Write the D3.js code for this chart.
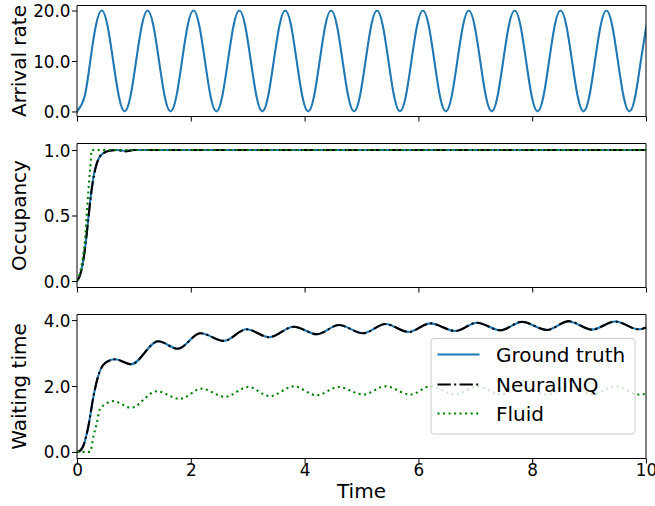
<!DOCTYPE html>
<html><head><meta charset="utf-8">
<script src="https://cdn.jsdelivr.net/npm/d3@7"></script>
<style>
body{margin:0;background:#fff}
svg{display:block}
text{font-family:"DejaVu Sans",sans-serif;fill:#000}
</style>
</head><body>
<svg id="c" width="655" height="506"></svg>
<script>
// ---------------- data ----------------
const xTicks = [0, 2, 4, 6, 8, 10];
const arrivalTicks = [0, 10, 20];
const occupancyTicks = [0, 0.5, 1];
const waitingTicks = [0, 2, 4];
const seriesNames = ["Ground truth", "NeuralINQ", "Fluid"];

// Arrival rate (read at ~1/8 period steps)
const arrivalT = [0, 0.132, 0.233, 0.333, 0.434, 0.535, 0.636, 0.737, 0.837, 0.938, 1.039, 1.140, 1.241, 1.341, 1.442, 1.543, 1.644, 1.745, 1.845, 1.946, 2.047, 2.148, 2.249, 2.349, 2.450, 2.551, 2.652, 2.753, 2.853, 2.954, 3.055, 3.156, 3.257, 3.357, 3.458, 3.559, 3.660, 3.761, 3.861, 3.962, 4.063, 4.164, 4.265, 4.365, 4.466, 4.567, 4.668, 4.769, 4.869, 4.970, 5.071, 5.172, 5.273, 5.373, 5.474, 5.575, 5.676, 5.777, 5.877, 5.978, 6.079, 6.180, 6.281, 6.381, 6.482, 6.583, 6.684, 6.785, 6.885, 6.986, 7.087, 7.188, 7.289, 7.389, 7.490, 7.591, 7.692, 7.793, 7.893, 7.994, 8.095, 8.196, 8.297, 8.397, 8.498, 8.599, 8.700, 8.801, 8.901, 9.002, 9.103, 9.204, 9.305, 9.405, 9.506, 9.607, 9.708, 9.809, 9.909, 10.010];
const arrivalV = [
 0, 2.9, 10, 17.1, 20, 17.1, 10, 2.9,
 0, 2.9, 10, 17.1, 20, 17.1, 10, 2.9,
 0, 2.9, 10, 17.1, 20, 17.1, 10, 2.9,
 0, 2.9, 10, 17.1, 20, 17.1, 10, 2.9,
 0, 2.9, 10, 17.1, 20, 17.1, 10, 2.9,
 0, 2.9, 10, 17.1, 20, 17.1, 10, 2.9,
 0, 2.9, 10, 17.1, 20, 17.1, 10, 2.9,
 0, 2.9, 10, 17.1, 20, 17.1, 10, 2.9,
 0, 2.9, 10, 17.1, 20, 17.1, 10, 2.9,
 0, 2.9, 10, 17.1, 20, 17.1, 10, 2.9,
 0, 2.9, 10, 17.1, 20, 17.1, 10, 2.9,
 0, 2.9, 10, 17.1, 20, 17.1, 10, 2.9,
 0, 2.9, 10, 17.1];

// Occupancy
const occTruthT = [0, 0.05, 0.1, 0.15, 0.2, 0.25, 0.3, 0.35, 0.4, 0.5, 0.6, 0.7, 0.85, 1.0, 10];
const occTruthV = [0, 0.04, 0.13, 0.28, 0.48, 0.68, 0.82, 0.90, 0.95, 0.985, 0.997, 1.0, 0.993, 1.0, 1.0];
const occNeuralT = [0, 0.05, 0.1, 0.15, 0.2, 0.25, 0.3, 0.35, 0.4, 0.5, 0.6, 0.7, 0.85, 1.0, 10];
const occNeuralV = [0, 0.04, 0.13, 0.28, 0.48, 0.67, 0.81, 0.90, 0.95, 0.985, 0.997, 1.0, 0.99, 1.0, 1.0];
const occFluidT = [0, 0.05, 0.1, 0.14, 0.18, 0.23, 0.26, 10];
const occFluidV = [0, 0.06, 0.17, 0.31, 0.57, 0.85, 1.0, 1.0];

// Waiting time
const waitTruthT = [0, 0.05, 0.11, 0.2, 0.29, 0.37, 0.49, 0.67, 0.95, 1.43, 1.77, 2.17, 2.58, 2.98, 3.38, 3.81, 4.22, 4.6, 5.03, 5.42, 5.83, 6.21, 6.65, 7.03, 7.44, 7.82, 8.26, 8.64, 9.05, 9.46, 9.87, 10];
const waitTruthV = [0, 0.03, 0.18, 0.78, 1.69, 2.29, 2.69, 2.81, 2.66, 3.36, 3.13, 3.60, 3.37, 3.72, 3.48, 3.80, 3.57, 3.85, 3.60, 3.88, 3.64, 3.90, 3.67, 3.92, 3.69, 3.94, 3.70, 3.96, 3.71, 3.96, 3.72, 3.78];
const waitNeuralT = [0, 0.05, 0.11, 0.2, 0.29, 0.37, 0.49, 0.67, 0.95, 1.43, 1.77, 2.17, 2.58, 2.98, 3.38, 3.81, 4.22, 4.6, 5.03, 5.42, 5.83, 6.21, 6.65, 7.03, 7.44, 7.82, 8.26, 8.64, 9.05, 9.46, 9.87, 10];
const waitNeuralV = [0, 0.03, 0.18, 0.78, 1.69, 2.29, 2.69, 2.81, 2.66, 3.36, 3.13, 3.60, 3.37, 3.72, 3.48, 3.80, 3.57, 3.85, 3.60, 3.88, 3.64, 3.90, 3.67, 3.92, 3.69, 3.95, 3.70, 3.97, 3.71, 3.96, 3.72, 3.78];
const waitFluidT = [0, 0.23, 0.29, 0.35, 0.40, 0.49, 0.64, 0.95, 1.40, 1.81, 2.19, 2.60, 3.01, 3.39, 3.81, 4.21, 4.6, 5.03, 5.42, 5.86, 6.21, 6.65, 7.03, 7.44, 7.82, 8.26, 8.64, 9.05, 9.46, 9.87, 10];
const waitFluidV = [0, 0, 0.48, 0.89, 1.29, 1.44, 1.54, 1.34, 1.84, 1.61, 1.92, 1.67, 1.97, 1.69, 1.99, 1.72, 1.97, 1.74, 1.99, 1.74, 1.99, 1.74, 1.99, 1.74, 1.99, 1.74, 1.99, 1.74, 1.99, 1.74, 1.76];

// ---------------- drawing ----------------
const svg = d3.select("#c");
const X0 = 77, X1 = 646;
const x = d3.scaleLinear().domain([0, 10]).range([X0, X1]);
const C_BLUE = "#1f77b4", C_GREEN = "#008000";
const LW = 2.08;
const tickFont = 16.8, labelFont = 20;

const panels = [
  {top: 5.5, bottom: 116.5, domain: [-1, 21], ticks: arrivalTicks, fmt: d3.format(".1f"), label: "Arrival rate",
   series: [{t: arrivalT, v: arrivalV, color: C_BLUE, dash: null, curve: d3.curveNatural}]},
  {top: 143.5, bottom: 287.5, domain: [-0.05, 1.05], ticks: occupancyTicks, fmt: d3.format(".1f"), label: "Occupancy",
   series: [
     {t: occTruthT, v: occTruthV, color: C_BLUE, dash: null, curve: d3.curveMonotoneX},
     {t: occNeuralT, v: occNeuralV, color: "#000", dash: "13.3,3.33,2.08,3.33", curve: d3.curveMonotoneX},
     {t: occFluidT, v: occFluidV, color: C_GREEN, dash: "2.08,3.44", curve: d3.curveMonotoneX}]},
  {top: 314.5, bottom: 458.5, domain: [-0.2, 4.17], ticks: waitingTicks, fmt: d3.format(".1f"), label: "Waiting time",
   series: [
     {t: waitTruthT, v: waitTruthV, color: C_BLUE, dash: null, curve: d3.curveMonotoneX},
     {t: waitNeuralT, v: waitNeuralV, color: "#000", dash: "13.3,3.33,2.08,3.33", curve: d3.curveMonotoneX},
     {t: waitFluidT, v: waitFluidV, color: C_GREEN, dash: "2.08,3.44", curve: d3.curveMonotoneX}]}
];

panels.forEach((p, i) => {
  const y = d3.scaleLinear().domain(p.domain).range([p.bottom, p.top]);
  const g = svg.append("g");
  const cid = "clip" + i;
  svg.append("clipPath").attr("id", cid).append("rect")
    .attr("x", X0).attr("y", p.top).attr("width", X1 - X0).attr("height", p.bottom - p.top);

  const lg = g.append("g").attr("clip-path", `url(#${cid})`);
  p.series.forEach(s => {
    const pts = s.t.map((t, k) => [t, s.v[k]]);
    const line = d3.line().x(d => x(d[0])).y(d => y(d[1])).curve(s.curve);
    const path = lg.append("path").attr("d", line(pts))
      .attr("fill", "none").attr("stroke", s.color).attr("stroke-width", LW)
      .attr("stroke-linejoin", "round");
    if (s.dash) path.attr("stroke-dasharray", s.dash).attr("stroke-linecap", "butt");
    else path.attr("stroke-linecap", "square");
  });

  // spines
  g.append("line").attr("x1", X0).attr("x2", X1).attr("y1", p.top).attr("y2", p.top).attr("stroke", "#000").attr("stroke-width", 1);
  g.append("line").attr("x1", X0).attr("x2", X1).attr("y1", p.bottom).attr("y2", p.bottom).attr("stroke", "#000").attr("stroke-width", 1);
  g.append("line").attr("x1", X0).attr("x2", X0).attr("y1", p.top).attr("y2", p.bottom).attr("stroke", "#000").attr("stroke-width", 1);
  g.append("line").attr("x1", X1).attr("x2", X1).attr("y1", p.top).attr("y2", p.bottom).attr("stroke", "#000").attr("stroke-width", 1);

  // y axis
  const ya = d3.axisLeft(y).tickValues(p.ticks).tickFormat(p.fmt).tickSize(5).tickPadding(3);
  const yg = g.append("g").attr("transform", `translate(${X0},0)`).call(ya);
  yg.select(".domain").remove();
  yg.selectAll(".tick line").attr("stroke", "#000");
  yg.selectAll(".tick text").attr("font-size", tickFont).attr("font-family", "DejaVu Sans").attr("fill", "#000")
    .attr("dy", "0.36em").attr("x", -6.5);

  // x axis
  const xa = d3.axisBottom(x).tickValues(xTicks).tickSize(5).tickPadding(4)
    .tickFormat(i === panels.length - 1 ? d3.format("d") : () => "");
  const xg = g.append("g").attr("transform", `translate(0,${p.bottom})`).call(xa);
  xg.select(".domain").remove();
  xg.selectAll(".tick line").attr("stroke", "#000");
  xg.selectAll(".tick text").attr("font-size", tickFont).attr("font-family", "DejaVu Sans").attr("fill", "#000")
    .attr("dy", null).attr("y", 17.5);

  // y label
  svg.append("text").attr("transform", `translate(26,${(p.top + p.bottom) / 2}) rotate(-90)`)
    .attr("text-anchor", "middle").attr("font-size", labelFont).text(p.label);
});

// x label
svg.append("text").attr("x", (X0 + X1) / 2).attr("y", 497.5).attr("text-anchor", "middle")
  .attr("font-size", labelFont).text("Time");

// legend
const lg = svg.append("g");
lg.append("rect").attr("x", 431).attr("y", 338.5).attr("width", 204).attr("height", 95.5).attr("rx", 3)
  .attr("fill", "#fff").attr("fill-opacity", 0.8).attr("stroke", "#ccc").attr("stroke-width", 1);
const legRows = [
  {name: seriesNames[0], color: C_BLUE, dash: null, y: 354.5},
  {name: seriesNames[1], color: "#000", dash: "13.3,3.33,2.08,3.33", y: 384.5},
  {name: seriesNames[2], color: C_GREEN, dash: "2.08,3.44", y: 413.5}
];
legRows.forEach(r => {
  const l = lg.append("line").attr("x1", 437.5).attr("x2", 479.5).attr("y1", r.y).attr("y2", r.y)
    .attr("stroke", r.color).attr("stroke-width", LW);
  if (r.dash) l.attr("stroke-dasharray", r.dash);
  lg.append("text").attr("x", 496).attr("y", r.y + 7.3).attr("font-size", labelFont).text(r.name);
});
</script>
</body></html>
